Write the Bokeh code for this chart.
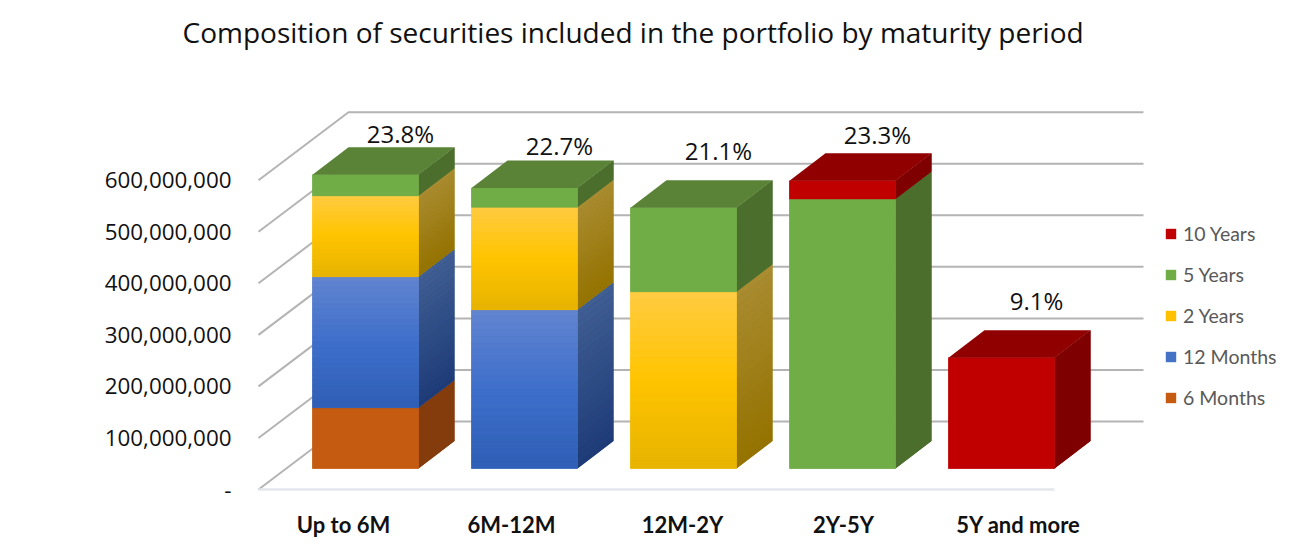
from bokeh.plotting import figure
from bokeh.models import Range1d, LinearAxis, FixedTicker, NumeralTickFormatter, Legend, LegendItem, Title, ColumnDataSource
from bokeh.core.properties import value
from bokeh.embed import file_html
from bokeh.resources import INLINE

# ---- data ----
categories = ["Up to 6M", "6M-12M", "12M-2Y", "2Y-5Y", "5Y and more"]
six_months = [118e6, 0, 0, 0, 0]
twelve_months = [254e6, 308e6, 0, 0, 0]
two_years = [157e6, 199e6, 343e6, 0, 0]
five_years = [41e6, 37e6, 163e6, 523e6, 0]
ten_years = [0, 0, 0, 35e6, 215e6]
shares = ["23.8%", "22.7%", "21.1%", "23.3%", "9.1%"]
series_names = ["6 Months", "12 Months", "2 Years", "5 Years", "10 Years"]
y_ticks = [0, 100e6, 200e6, 300e6, 400e6, 500e6, 600e6]

# ---- styles: front (top, mid, bottom), side (top, bottom), cap ----
styles = [
    dict(front=("#C55A11", "#C55A11", "#C55A11"), side=("#843C0C", "#843C0C"), cap="#843C0C", flat="#C55A11"),
    dict(front=("#6184D0", "#3E6FCB", "#2F5FB6"), side=("#3F5E92", "#1E3B78"), cap="#2F5597", flat="#4472C4"),
    dict(front=("#FFCB40", "#FFC400", "#E8B400"), side=("#A98B30", "#947300"), cap="#947300", flat="#FFC000"),
    dict(front=("#70AD47", "#70AD47", "#70AD47"), side=("#4B6E2D", "#4B6E2D"), cap="#5A8337", flat="#70AD47"),
    dict(front=("#C00000", "#C00000", "#C00000"), side=("#7F0000", "#7F0000"), cap="#900000", flat="#C00000"),
]
series = [six_months, twelve_months, two_years, five_years, ten_years]

# ---- layout (picture pixels) ----
W, H, TOP = 1282, 543, 50
FRAME_H = H - TOP
PX_X0, PX_X1 = 0, W
PX_Y0, PX_Y1 = TOP, H
Y0_PX, PX_PER_UNIT = 489.0, 51.55 / 100e6
PITCH, CENTER0 = 159.0, 365.0

def ux(px): return (px - CENTER0) / PITCH
def uy(px): return (Y0_PX - px) / PX_PER_UNIT
def dxu(px): return px / PITCH
def dyu(px): return px / PX_PER_UNIT

p = figure(width=W, height=H, frame_height=FRAME_H, output_backend="svg", toolbar_location=None,
           x_range=Range1d(ux(PX_X0), ux(PX_X1)), y_range=Range1d(uy(PX_Y1), uy(PX_Y0)),
           x_axis_type=None, y_axis_type=None, min_border=0, min_border_top=TOP,
           background_fill_color="white", border_fill_color="white", outline_line_color=None)
p.xgrid.visible = False
p.ygrid.visible = False
p.title = None
p.add_layout(Title(text="Composition of securities included in the portfolio by maturity period",
                   text_font="Open Sans", text_font_size="28px", text_font_style="normal", text_color="#111111",
                   align="left", offset=182, standoff=0), "above")

# ---- 3D walls ----
WALL_DX, WALL_DY = 90, 68
wall_left = ux(258); wall_back = ux(258 + WALL_DX); wall_right = ux(1143)
for t in y_ticks:
    back_y = t + dyu(WALL_DY)
    p.line([wall_left, wall_back, wall_right], [t, back_y, back_y], line_color="#B4B4B4", line_width=2)
p.line([wall_left, ux(1054)], [0, 0], line_color="#E3E6EA", line_width=2.5)

# ---- 3D stacked bars ----
HALF = 53 / PITCH
DX, DY = dxu(36), dyu(27.5)
BASE = dyu(21)

def mix(a, b, t):
    ca = [int(a[i:i+2], 16) for i in (1, 3, 5)]
    cb = [int(b[i:i+2], 16) for i in (1, 3, 5)]
    return "#%02x%02x%02x" % tuple(round(x + (y - x) * t) for x, y in zip(ca, cb))

def stops(c, t):
    return mix(c[0], c[1], t * 2) if t < 0.5 else mix(c[1], c[2], t * 2 - 1)

legend_renderers = {}
offset = [BASE] * len(categories)
for s_i, (vals, st) in enumerate(zip(series, styles)):
    N = 24 if st["side"][0] != st["side"][1] else 1
    lefts = [i - HALF for i in range(len(vals))]
    rights = [i + HALF for i in range(len(vals))]
    bottoms = offset[:]
    tops = [b + v for b, v in zip(bottoms, vals)]
    # flat under-layers; the front one also feeds the legend
    p.patches([[r, r + DX, r + DX, r] for r in rights],
              [[t, t + DY, b + DY, b] for t, b in zip(tops, bottoms)],
              fill_color=mix(st["side"][0], st["side"][1], 0.5), line_color=None)
    legend_renderers[s_i] = p.quad(left=lefts, right=rights, bottom=bottoms, top=tops,
                                   fill_color=st["flat"], line_color=None)
    xs, ys, cols = [], [], []
    fl, fr, fb, ft, fc = [], [], [], [], []
    for i, v in enumerate(vals):
        if v == 0:
            continue
        b, tp = bottoms[i], tops[i]
        r = rights[i]
        for k in range(N):
            y1 = tp - v * k / N
            y2 = tp - v * (k + 1) / N
            xs.append([r, r + DX, r + DX, r])
            ys.append([y1, y1 + DY, y2 + DY, y2])
            cols.append(mix(st["side"][0], st["side"][1], k / max(N - 1, 1)))
            fl.append(lefts[i]); fr.append(r); ft.append(y1); fb.append(y2)
            fc.append(stops(st["front"], k / max(N - 1, 1)))
    p.patches(xs, ys, fill_color=cols, line_color=None)
    p.quad(left=fl, right=fr, top=ft, bottom=fb, fill_color=fc, line_color=fc, line_width=0.6)
    offset = tops

# caps: colour of the top non-zero series in each bar
for i in range(len(categories)):
    top_s = max(k for k in range(len(series)) if series[k][i] > 0)
    l, r, t = i - HALF, i + HALF, offset[i]
    p.patch([l, r, r + DX, l + DX], [t, t, t + DY, t + DY], fill_color=styles[top_s]["cap"], line_color=None)

# ---- share labels ----
label_gap_px = [41, 43, 57, 46, 57]
src = ColumnDataSource(dict(x=list(range(5)), y=offset, text=shares, dy=[-g for g in label_gap_px]))
p.text(x="x", y="y", text="text", source=src, x_offset=35, y_offset="dy",
       text_align="center", text_baseline="middle", text_color="#111111",
       text_font=value("Open Sans"), text_font_size="24px")

# ---- axes ----
yaxis = LinearAxis(ticker=FixedTicker(ticks=y_ticks), formatter=NumeralTickFormatter(format="0,0"),
                   major_label_overrides={0: "-"}, axis_line_color=None, major_tick_line_color=None,
                   minor_tick_line_color=None, major_label_standoff=21, fixed_location=wall_left,
                   major_label_text_font="Open Sans", major_label_text_font_size="22.4px", major_label_text_color="#111111")
p.add_layout(yaxis, "left")

label_px = [343, 511, 682, 843, 1018]
label_pos = [round(ux(v), 4) for v in label_px]
xaxis = LinearAxis(ticker=FixedTicker(ticks=label_pos),
                   major_label_overrides=dict(zip(label_pos, categories)),
                   axis_line_color=None, major_tick_line_color=None, minor_tick_line_color=None,
                   major_label_standoff=0, fixed_location=uy(504),
                   major_label_text_font="Lato", major_label_text_font_style="bold",
                   major_label_text_font_size="22px", major_label_text_color="#111111")
p.add_layout(xaxis, "below")

# ---- legend ----
items = [LegendItem(label=series_names[i], renderers=[legend_renderers[i]]) for i in reversed(range(5))]
legend = Legend(items=items, location=(1164 - PX_X0, 134), orientation="vertical",
                background_fill_alpha=0, border_line_color=None, padding=0, margin=0,
                glyph_width=13, glyph_height=13, label_height=13, spacing=18, label_standoff=6,
                label_text_font="Lato", label_text_font_size="19.5px", label_text_color="#595959",
                label_text_baseline="middle")
p.add_layout(legend)

open("out.html", "w").write(file_html(p, INLINE))
